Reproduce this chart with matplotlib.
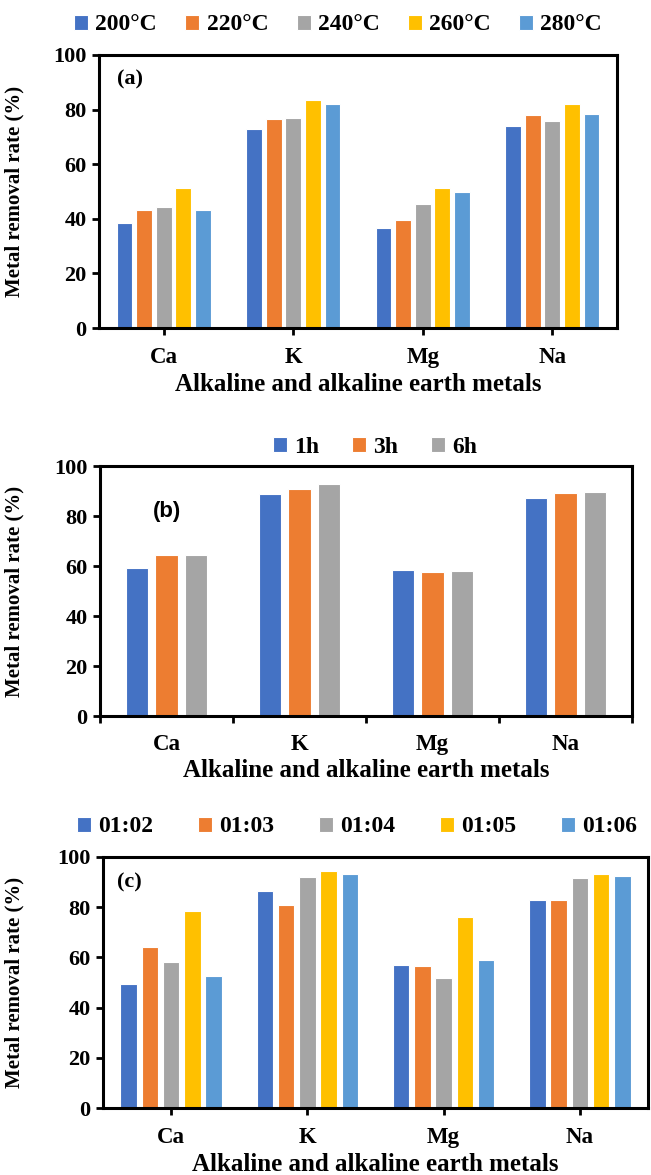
import numpy as np
import matplotlib
matplotlib.use("Agg")
import matplotlib.pyplot as plt

plt.rcParams['font.family'] = ['Liberation Serif', 'DejaVu Serif']
plt.rcParams['font.weight'] = 'bold'

metals = ['Ca', 'K', 'Mg', 'Na']

# (a) temperature
temp_labels = ['200°C', '220°C', '240°C', '260°C', '280°C']
temp_200 = [38.5, 72.8, 36.8, 73.9]
temp_220 = [43.2, 76.5, 39.5, 77.9]
temp_240 = [44.4, 76.9, 45.4, 75.8]
temp_260 = [51.4, 83.4, 51.4, 82.0]
temp_280 = [43.2, 82.0, 50.0, 78.4]

# (b) time
time_labels = ['1h', '3h', '6h']
time_1h = [59.4, 89.0, 58.4, 87.1]
time_3h = [64.5, 90.9, 57.6, 89.1]
time_6h = [64.5, 92.9, 57.9, 89.5]

# (c) ratio
ratio_labels = ['01:02', '01:03', '01:04', '01:05', '01:06']
ratio_12 = [49.6, 86.3, 57.1, 83.0]
ratio_13 = [64.3, 81.0, 56.6, 83.0]
ratio_14 = [58.0, 92.2, 51.9, 91.6]
ratio_15 = [78.6, 94.3, 75.9, 93.1]
ratio_16 = [52.6, 93.2, 59.1, 92.6]

colors = ['#4472C4', '#ED7D31', '#A5A5A5', '#FFC000', '#5B9BD5']

fig = plt.figure(figsize=(6.51, 11.75), dpi=100)


#Dibuja un grupo de barras y el formato de un panel
def drawPanel(rect, series, labels, width, pitch, tag, tagpos, tagfont,
              ticksAtCenter, legendpos, colspace):
    ax = fig.add_axes(rect)
    x = np.arange(len(metals))
    n = len(series)
    for i, vals in enumerate(series):
        off = (i - (n - 1) / 2) * pitch
        ax.bar(x + off, vals, width, color=colors[i], edgecolor='white',
               linewidth=0.8, label=labels[i], zorder=2)
    ax.set_xlim(-0.5, len(metals) - 0.5)
    ax.set_ylim(0, 100)
    ax.set_yticks(range(0, 101, 20))
    if ticksAtCenter:
        ax.set_xticks(x)
        ax.set_xticklabels(metals)
    else:
        ax.set_xticks(np.arange(-0.5, len(metals), 1.0))
        ax.set_xticklabels([])
        ax.set_xticks(x, minor=True)
        ax.set_xticklabels(metals, minor=True)
        ax.tick_params(axis='x', which='minor', length=0, pad=13)
    ax.tick_params(axis='x', which='major', direction='out', length=5,
                   width=2, pad=9, labelsize=16.5)
    ax.tick_params(axis='y', direction='out', length=5, width=2, pad=4,
                   labelsize=16)
    for s in ax.spines.values():
        s.set_linewidth(2.2)
    for lab in ax.get_xticklabels(minor=True):
        lab.set_fontsize(16.5)
    ax.set_xlabel('Alkaline and alkaline earth metals', fontsize=18,
                  fontweight='bold', labelpad=3)
    ax.set_ylabel('Metal removal rate (%)', fontsize=15, fontweight='bold')
    ax.yaxis.set_label_coords(24 / 651, rect[1] + rect[3] / 2,
                              transform=fig.transFigure)
    ax.text(tagpos[0], tagpos[1], tag, transform=ax.transAxes,
            fontsize=16, fontweight='bold', family=tagfont,
            ha='left', va='center')
    fig.legend(*ax.get_legend_handles_labels(), loc='center',
               bbox_to_anchor=legendpos, ncol=n, frameon=False,
               prop={'size': 17, 'weight': 'bold'}, handlelength=0.6,
               handleheight=0.6, handletextpad=0.3, columnspacing=colspace,
               borderaxespad=0)
    return ax


drawPanel([99 / 651, 1 - 328 / 1175, 518 / 651, 273 / 1175],
          [temp_200, temp_220, temp_240, temp_260, temp_280], temp_labels,
          0.121, 0.151, '(a)', (0.035, 0.91), ['Liberation Serif'], True,
          (338 / 651, 1 - 25 / 1175), 1.2)

drawPanel([100 / 651, 1 - 716 / 1175, 532 / 651, 250 / 1175],
          [time_1h, time_3h, time_6h], time_labels,
          0.166, 0.22, '(b)', (0.10, 0.82), ['Liberation Sans'], False,
          (375 / 651, 1 - 447 / 1175), 1.4)

drawPanel([103 / 651, 1 - 1108 / 1175, 545 / 651, 251 / 1175],
          [ratio_12, ratio_13, ratio_14, ratio_15, ratio_16], ratio_labels,
          0.12, 0.156, '(c)', (0.025, 0.90), ['Liberation Serif'], True,
          (357 / 651, 1 - 827 / 1175), 1.9)

fig.savefig('out.png', dpi=100)
